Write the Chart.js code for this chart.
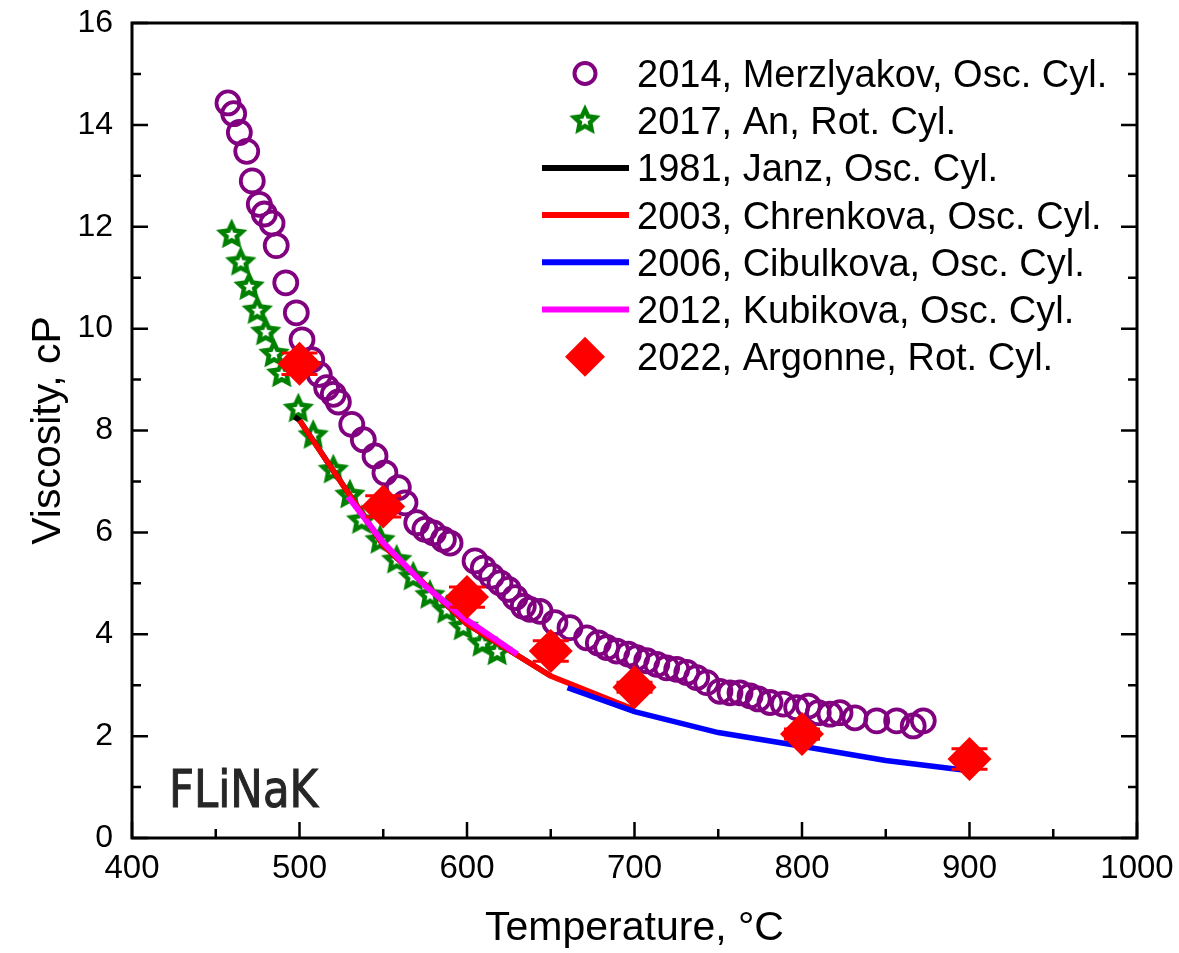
<!DOCTYPE html>
<html><head><meta charset="utf-8">
<script src="https://cdn.jsdelivr.net/npm/chart.js@4.4.1/dist/chart.umd.min.js"></script>
<style>html,body{margin:0;padding:0;background:#fff}</style>
</head><body>
<canvas id="c" width="1179" height="953" style="display:block;width:1179px;height:953px"></canvas>
<script>
// ---- data ----
const merzT = [457.3,460.7,464.1,468.5,471.8,476.0,479.0,483.6,486.1,491.8,498.1,501.5,507.3,511.8,516.2,520.2,523.2,531.2,538.1,545.1,551.0,559.0,563.0,570.0,574.9,579.9,585.9,589.9,604.8,609.7,614.7,619.7,624.7,628.7,633.6,637.6,643.6,652.5,661.5,671.4,678.4,683.4,689.4,696.3,701.3,707.3,713.3,719.2,725.2,731.2,737.1,743.1,751.0,757.0,763.0,769.0,773.9,780.9,788.8,796.8,803.8,809.7,816.7,822.7,831.6,844.6,856.5,866.4,872.4];
const merzV = [14.43,14.22,13.85,13.48,12.90,12.44,12.25,12.07,11.63,10.90,10.31,9.78,9.39,9.10,8.84,8.71,8.56,8.12,7.82,7.50,7.17,6.88,6.58,6.19,6.06,5.99,5.86,5.79,5.44,5.30,5.14,5.01,4.88,4.72,4.55,4.49,4.45,4.23,4.13,3.93,3.83,3.74,3.67,3.61,3.54,3.48,3.41,3.34,3.31,3.25,3.15,3.05,2.88,2.85,2.85,2.79,2.73,2.66,2.63,2.56,2.59,2.46,2.43,2.46,2.36,2.30,2.30,2.20,2.30];
const anT = [459.5,464.9,469.9,474.8,479.8,484.8,489.4,499.3,508.2,520.2,530.1,537.1,548.1,558.0,567.9,577.9,587.9,597.8,609.0,618.0];
const anV = [11.86,11.32,10.84,10.37,9.95,9.52,9.13,8.44,7.92,7.24,6.75,6.25,5.86,5.47,5.14,4.78,4.49,4.16,3.84,3.67];
const janzT = [497,500,550,600,650];
const janzV = [8.27,8.2,5.75,4.2,3.18];
const chrenT = [500,550,600,650,700];
const chrenV = [8.2,5.75,4.2,3.18,2.52];
const cibT = [660,700,750,800,850,900];
const cibV = [2.95,2.48,2.07,1.80,1.52,1.32];
const kubT = [529,550,575,600,630];
const kubV = [6.70,5.80,4.95,4.28,3.61];
const argT = [500,550,600,650,700,800,900];
const argV = [9.31,6.51,4.73,3.67,2.96,2.04,1.55];
const argErr = [0.21,0.21,0.2,0.2,0.1,0.1,0.2];
const xTickValues = [400,500,600,700,800,900,1000];
const yTickValues = [0,2,4,6,8,10,12,14,16];
const seriesNames = ['2014, Merzlyakov, Osc. Cyl.','2017, An, Rot. Cyl.','1981, Janz, Osc. Cyl.','2003, Chrenkova, Osc. Cyl.','2006, Cibulkova, Osc. Cyl.','2012, Kubikova, Osc. Cyl.','2022, Argonne, Rot. Cyl.'];

const PURPLE = '#800080', GREEN = '#008000';
const FONT = "'Liberation Sans', Arial, sans-serif";
Chart.defaults.font.family = FONT;
Chart.defaults.color = '#000';

function pts(t, v) { return t.map((x, i) => ({x: x, y: v[i]})); }

function starPath(ctx, cx, cy, R, r) {
  ctx.beginPath();
  for (let i = 0; i < 10; i++) {
    const a = -Math.PI / 2 + i * Math.PI / 5;
    const rr = i % 2 ? r : R;
    const px = cx + rr * Math.cos(a), py = cy + rr * Math.sin(a);
    if (i) ctx.lineTo(px, py); else ctx.moveTo(px, py);
  }
  ctx.closePath();
}
const starImg = document.createElement('canvas');
starImg.width = 36; starImg.height = 36;
(function () {
  const g = starImg.getContext('2d');
  starPath(g, 18, 19, 16.5, 8.0); g.fillStyle = GREEN; g.fill();
  starPath(g, 18, 19, 6.0, 2.7); g.fillStyle = '#fff'; g.fill();
})();

const frameTicks = {
  id: 'frameTicks',
  afterDatasetsDraw(chart) {
    const {ctx, chartArea: a, scales: {x, y}} = chart;
    ctx.save();
    ctx.strokeStyle = '#000';
    ctx.lineWidth = 2.5;
    ctx.beginPath();
    for (let v = 400; v <= 1000; v += 50) {
      const px = x.getPixelForValue(v);
      const len = v % 100 === 0 ? 16 : 9;
      ctx.moveTo(px, a.bottom); ctx.lineTo(px, a.bottom - len);
    }
    for (let v = 0; v <= 16; v += 1) {
      const py = y.getPixelForValue(v);
      const len = v % 2 === 0 ? 16 : 9;
      ctx.moveTo(a.left, py); ctx.lineTo(a.left + len, py);
      ctx.moveTo(a.right, py); ctx.lineTo(a.right - len, py);
    }
    ctx.stroke();
    ctx.lineWidth = 3;
    ctx.strokeRect(a.left, a.top, a.right - a.left, a.bottom - a.top);
    ctx.restore();
  }
};

const errorBars = {
  id: 'errorBars',
  afterDatasetsDraw(chart) {
    const {ctx, scales: {x, y}} = chart;
    ctx.save();
    ctx.strokeStyle = '#ff0000';
    ctx.lineWidth = 3;
    ctx.beginPath();
    argT.forEach((t, i) => {
      const px = x.getPixelForValue(t);
      const y1 = y.getPixelForValue(argV[i] + argErr[i]);
      const y2 = y.getPixelForValue(argV[i] - argErr[i]);
      ctx.moveTo(px, y1); ctx.lineTo(px, y2);
      ctx.moveTo(px - 18, y1); ctx.lineTo(px + 18, y1);
      ctx.moveTo(px - 18, y2); ctx.lineTo(px + 18, y2);
    });
    ctx.stroke();
    ctx.restore();
  }
};

const legendBox = {
  id: 'legendBox',
  afterDraw(chart) {
    const ctx = chart.ctx;
    ctx.save();
    const y0 = 73.5, dy = 47.2, xm = 585, xl1 = 542, xl2 = 629, xt = 637;
    ctx.font = '38px ' + FONT;
    ctx.fillStyle = '#000';
    ctx.textBaseline = 'alphabetic';
    seriesNames.forEach((name, i) => {
      const cy = y0 + i * dy;
      if (i === 0) {
        ctx.beginPath(); ctx.arc(xm, cy, 10.5, 0, Math.PI * 2);
        ctx.strokeStyle = PURPLE; ctx.lineWidth = 4; ctx.stroke();
      } else if (i === 1) {
        ctx.drawImage(starImg, xm - 18, cy - 19);
      } else if (i === 6) {
        ctx.beginPath();
        ctx.moveTo(xm, cy - 20); ctx.lineTo(xm + 20, cy); ctx.lineTo(xm, cy + 20); ctx.lineTo(xm - 20, cy);
        ctx.closePath(); ctx.fillStyle = '#ff0000'; ctx.fill();
      } else {
        const col = ['#000000', '#ff0000', '#0000ff', '#ff00ff'][i - 2];
        ctx.beginPath(); ctx.moveTo(xl1, cy); ctx.lineTo(xl2, cy);
        ctx.strokeStyle = col; ctx.lineWidth = 6; ctx.stroke();
      }
      ctx.fillStyle = '#000';
      ctx.fillText(name, xt, cy + 13.5);
    });
    // FLiNaK label
    ctx.translate(169, 807);
    ctx.scale(0.93, 1);
    ctx.font = "52px 'DejaVu Sans Condensed', 'DejaVu Sans', sans-serif";
    ctx.fillStyle = '#262626';
    ctx.strokeStyle = '#262626';
    ctx.lineWidth = 1;
    ctx.fillText('FLiNaK', 0, 0);
    ctx.strokeText('FLiNaK', 0, 0);
    ctx.restore();
  }
};

new Chart(document.getElementById('c'), {
  type: 'scatter',
  data: {
    datasets: [
      {label: seriesNames[0], data: pts(merzT, merzV), pointStyle: 'circle', pointRadius: 11.5, pointBorderWidth: 3.8, borderColor: PURPLE, backgroundColor: 'rgba(0,0,0,0)', showLine: false, order: 6},
      {label: seriesNames[1], data: pts(anT, anV), pointStyle: starImg, showLine: false, order: 5},
      {label: seriesNames[2], data: pts(janzT, janzV), showLine: true, borderColor: '#000', borderWidth: 5.5, pointRadius: 0, order: 4},
      {label: seriesNames[3], data: pts(chrenT, chrenV), showLine: true, borderColor: '#ff0000', borderWidth: 5.5, pointRadius: 0, order: 3},
      {label: seriesNames[4], data: pts(cibT, cibV), showLine: true, borderColor: '#0000ff', borderWidth: 5.5, pointRadius: 0, order: 2},
      {label: seriesNames[5], data: pts(kubT, kubV), showLine: true, borderColor: '#ff00ff', borderWidth: 6, pointRadius: 0, order: 1},
      {label: seriesNames[6], data: pts(argT, argV), pointStyle: 'rectRot', pointRadius: 22, borderWidth: 0, pointBorderWidth: 0, backgroundColor: '#ff0000', borderColor: '#ff0000', showLine: false, order: 0}
    ]
  },
  options: {
    responsive: false,
    devicePixelRatio: 1,
    animation: false,
    layout: {padding: {top: 23, right: 42, left: 0, bottom: 0}},
    plugins: {legend: {display: false}, tooltip: {enabled: false}},
    scales: {
      x: {
        type: 'linear', min: 400, max: 1000,
        afterBuildTicks: s => { s.ticks = xTickValues.map(v => ({value: v})); },
        ticks: {font: {size: 33}, color: '#000', padding: 11, maxRotation: 0, callback: v => String(v)},
        grid: {display: false, drawTicks: false},
        border: {display: false},
        title: {display: true, text: 'Temperature, °C', font: {size: 41}, color: '#000', padding: {top: 0, bottom: 0}},
        afterFit: s => { s.height = 115; s.paddingLeft = 0; s.paddingRight = 0; }
      },
      y: {
        type: 'linear', min: 0, max: 16,
        afterBuildTicks: s => { s.ticks = yTickValues.map(v => ({value: v})); },
        ticks: {font: {size: 32}, color: '#000', padding: 19, callback: v => String(v)},
        grid: {display: false, drawTicks: false},
        border: {display: false},
        title: {display: true, text: 'Viscosity, cP', font: {size: 41}, color: '#000', padding: {top: 24, bottom: 0}},
        afterFit: s => { s.width = 132; s.paddingTop = 0; s.paddingBottom = 0; }
      }
    }
  },
  plugins: [errorBars, frameTicks, legendBox]
});
</script>
</body></html>
